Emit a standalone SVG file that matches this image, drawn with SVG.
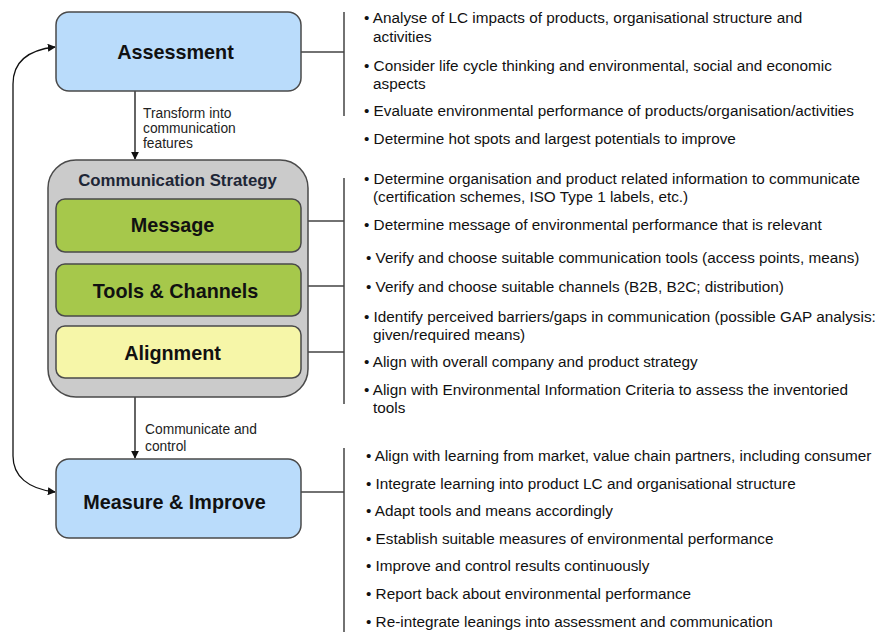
<svg xmlns="http://www.w3.org/2000/svg" width="877" height="632" viewBox="0 0 877 632">
  <style>
    .node { stroke: #4a4a4a; stroke-width: 1.5; }
    .blue { fill: #badcfb; }
    .green { fill: #a6c84b; }
    .yellow { fill: #f6f6a8; }
    .grey { fill: #cbcbcb; }
    .title { font-family: "Liberation Sans", Arial, sans-serif; font-weight: bold; font-size: 19.8px; fill: #111; text-anchor: middle; }
    .sub { font-family: "Liberation Sans", Arial, sans-serif; font-weight: bold; font-size: 16.8px; fill: #1e2636; text-anchor: middle; }
    .lbl { font-family: "Liberation Sans", Arial, sans-serif; font-size: 13.8px; fill: #222; }
    .item { font-family: "Liberation Sans", Arial, sans-serif; font-size: 15.3px; fill: #111; }
    .wire { fill: none; stroke: #111; stroke-width: 1.3; }
    .brace { fill: none; stroke: #444; stroke-width: 1.5; }
  </style>
  <defs>
    <marker id="arrow" viewBox="0 0 10 10" refX="9" refY="5" markerWidth="8" markerHeight="8" markerUnits="userSpaceOnUse" orient="auto-start-reverse">
      <path d="M0,0 L10,5 L0,10 z" fill="#111"/>
    </marker>
  </defs>

  <rect width="877" height="632" fill="#ffffff"/>

  <!-- connectors between the stages -->
  <g id="connectors">
    <path class="wire" d="M135,91 L135,159" marker-end="url(#arrow)"/>
    <path class="wire" d="M135,397 L135,458" marker-end="url(#arrow)"/>
    <path class="wire" d="M55,492 C28,489 13,476 13,456 L13,84 C13,62 28,50 55,47" marker-start="url(#arrow)" marker-end="url(#arrow)"/>
    <text class="lbl" x="143" y="118">Transform into</text>
    <text class="lbl" x="143" y="133">communication</text>
    <text class="lbl" x="143" y="148">features</text>
    <text class="lbl" x="145" y="434">Communicate and</text>
    <text class="lbl" x="145" y="451">control</text>
  </g>

  <!-- brackets tying stages to their activity lists -->
  <g id="brackets">
    <path class="brace" d="M301,52 L344,52 M344,12 L344,116"/>
    <path class="brace" d="M344,178 L344,404 M301,221 L344,221 M301,286 L344,286 M301,352 L344,352"/>
    <path class="brace" d="M301,492 L344,492 M344,448 L344,632"/>
  </g>

  <g id="assessment">
    <rect class="node blue" x="56" y="12" width="245" height="79" rx="13"/>
    <text class="title" x="175.5" y="59">Assessment</text>
  </g>

  <g id="communication-strategy">
    <rect class="node grey" x="48" y="160" width="260" height="237" rx="28"/>
    <text class="sub" x="177.5" y="186">Communication Strategy</text>
  </g>

  <g id="message">
    <rect class="node green" x="56" y="199" width="245" height="53" rx="9"/>
    <text class="title" x="172.5" y="232">Message</text>
  </g>

  <g id="tools-channels">
    <rect class="node green" x="56" y="264" width="245" height="52" rx="9"/>
    <text class="title" x="175.5" y="297.5">Tools &amp; Channels</text>
  </g>

  <g id="alignment">
    <rect class="node yellow" x="56" y="326" width="245" height="52" rx="9"/>
    <text class="title" x="172.5" y="359.5">Alignment</text>
  </g>

  <g id="measure-improve">
    <rect class="node blue" x="56" y="459" width="245" height="79" rx="13"/>
    <text class="title" x="174.5" y="508.5">Measure &amp; Improve</text>
  </g>

  <!-- activity lists -->
  <g id="assessment-items" class="item">
    <text x="364" y="23">• Analyse of LC impacts of products, organisational structure and</text>
    <text x="373" y="42">activities</text>
    <text x="364" y="71">• Consider life cycle thinking and environmental, social and economic</text>
    <text x="373" y="89">aspects</text>
    <text x="364" y="116">• Evaluate environmental performance of products/organisation/activities</text>
    <text x="364" y="144">• Determine hot spots and largest potentials to improve</text>
  </g>

  <g id="strategy-items" class="item">
    <text x="364" y="184">• Determine organisation and product related information to communicate</text>
    <text x="373" y="202">(certification schemes, ISO Type 1 labels, etc.)</text>
    <text x="364" y="230">• Determine message of environmental performance that is relevant</text>
    <text x="366" y="263">• Verify and choose suitable communication tools (access points, means)</text>
    <text x="366" y="292">• Verify and choose suitable channels (B2B, B2C; distribution)</text>
    <text x="364" y="322">• Identify perceived barriers/gaps in communication (possible GAP analysis:</text>
    <text x="373" y="340">given/required means)</text>
    <text x="364" y="367">• Align with overall company and product strategy</text>
    <text x="364" y="395">• Align with Environmental Information Criteria to assess the inventoried</text>
    <text x="373" y="413">tools</text>
  </g>

  <g id="measure-items" class="item">
    <text x="366" y="461">• Align with learning from market, value chain partners, including consumer</text>
    <text x="366" y="489">• Integrate learning into product LC and organisational structure</text>
    <text x="366" y="516">• Adapt tools and means accordingly</text>
    <text x="366" y="544">• Establish suitable measures of environmental performance</text>
    <text x="366" y="571">• Improve and control results continuously</text>
    <text x="366" y="599">• Report back about environmental performance</text>
    <text x="366" y="627">• Re-integrate leanings into assessment and communication</text>
  </g>
</svg>
